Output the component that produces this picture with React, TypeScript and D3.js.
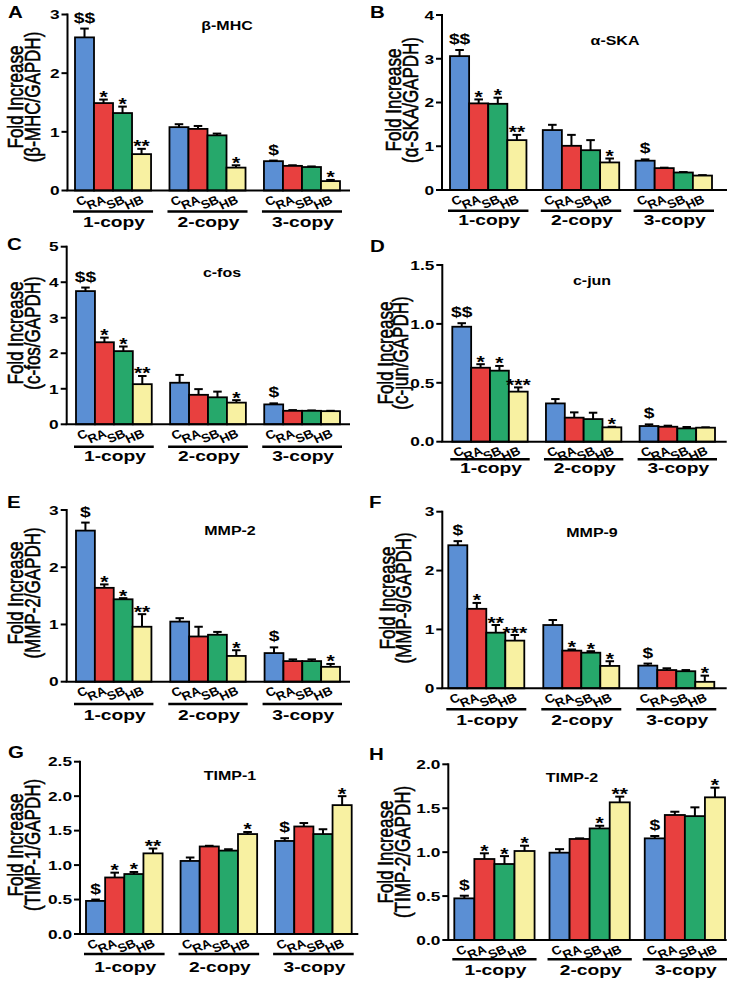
import React from 'react';
import * as d3 from 'd3';

// ---------- data ----------
const groups = ['1-copy', '2-copy', '3-copy'];
const treatments = ['C', 'RA', 'SB', 'HB'];
const barColors = ['#5B8FD4', '#E8403F', '#26A86B', '#F8F1A2'];

// A: beta-MHC
const mhcMeans = [[2.61, 1.49, 1.32, 0.62], [1.08, 1.05, 0.94, 0.39], [0.50, 0.42, 0.40, 0.16]];
const mhcSems = [[0.15, 0.06, 0.11, 0.09], [0.05, 0.05, 0.03, 0.04], [0.01, 0.01, 0.01, 0.02]];
const mhcMarks = [['$$', '*', '*', '**'], ['', '', '', '*'], ['$', '', '', '*']];
const mhcTicks = [0, 1, 2, 3];
const mhcTickLabels = ['0', '1', '2', '3'];

// B: alpha-SKA
const skaMeans = [[3.06, 1.98, 1.97, 1.14], [1.37, 1.01, 0.91, 0.63], [0.67, 0.50, 0.40, 0.33]];
const skaSems = [[0.14, 0.09, 0.14, 0.12], [0.12, 0.25, 0.23, 0.09], [0.03, 0.01, 0.01, 0.01]];
const skaMarks = [['$$', '*', '*', '**'], ['', '', '', '*'], ['$', '', '', '']];
const skaTicks = [0, 1, 2, 3, 4];
const skaTickLabels = ['0', '1', '2', '3', '4'];

// C: c-fos
const fosMeans = [[3.75, 2.31, 2.06, 1.13], [1.17, 0.83, 0.76, 0.61], [0.56, 0.38, 0.38, 0.37]];
const fosSems = [[0.10, 0.13, 0.13, 0.23], [0.22, 0.16, 0.16, 0.07], [0.03, 0.02, 0.01, 0.01]];
const fosMarks = [['$$', '*', '*', '**'], ['', '', '', '*'], ['$', '', '', '']];
const fosTicks = [0, 1, 2, 3, 4, 5];
const fosTickLabels = ['0', '1', '2', '3', '4', '5'];

// D: c-jun
const junMeans = [[0.976, 0.628, 0.603, 0.425], [0.325, 0.204, 0.192, 0.122], [0.133, 0.127, 0.113, 0.119]];
const junSems = [[0.03, 0.03, 0.04, 0.036], [0.037, 0.045, 0.054, 0.005], [0.014, 0.009, 0.012, 0.003]];
const junMarks = [['$$', '*', '*', '***'], ['', '', '', '*'], ['$', '', '', '']];
const junTicks = [0, 0.5, 1.0, 1.5];
const junTickLabels = ['0.0', '0.5', '1.0', '1.5'];

// E: MMP-2
const mmp2Means = [[2.64, 1.64, 1.44, 0.96], [1.05, 0.79, 0.82, 0.45], [0.50, 0.36, 0.36, 0.26]];
const mmp2Sems = [[0.14, 0.06, 0.02, 0.22], [0.06, 0.17, 0.05, 0.10], [0.10, 0.03, 0.03, 0.05]];
const mmp2Marks = [['$', '*', '*', '**'], ['', '', '', '*'], ['$', '', '', '*']];
const mmp2Ticks = [0, 1, 2, 3];
const mmp2TickLabels = ['0', '1', '2', '3'];

// F: MMP-9
const mmp9Means = [[2.43, 1.35, 0.945, 0.81], [1.075, 0.64, 0.605, 0.38], [0.385, 0.31, 0.29, 0.11]];
const mmp9Sems = [[0.07, 0.10, 0.13, 0.095], [0.085, 0.02, 0.025, 0.08], [0.035, 0.03, 0.02, 0.105]];
const mmp9Marks = [['$', '*', '**', '***'], ['', '*', '*', '*'], ['$', '', '', '*']];
const mmp9Ticks = [0, 1, 2, 3];
const mmp9TickLabels = ['0', '1', '2', '3'];

// G: TIMP-1
const timp1Means = [[0.48, 0.82, 0.87, 1.17], [1.06, 1.27, 1.21, 1.45], [1.35, 1.56, 1.45, 1.87]];
const timp1Sems = [[0.02, 0.07, 0.03, 0.07], [0.05, 0.01, 0.02, 0.03], [0.04, 0.05, 0.07, 0.13]];
const timp1Marks = [['$', '*', '*', '**'], ['', '', '', '*'], ['$', '', '', '*']];
const timp1Ticks = [0, 0.5, 1.0, 1.5, 2.0, 2.5];
const timp1TickLabels = ['0.0', '0.5', '1.0', '1.5', '2.0', '2.5'];

// H: TIMP-2
const timp2Means = [[0.474, 0.922, 0.865, 1.013], [0.994, 1.15, 1.27, 1.567], [1.157, 1.423, 1.41, 1.624]];
const timp2Sems = [[0.03, 0.065, 0.09, 0.06], [0.04, 0.007, 0.03, 0.065], [0.027, 0.037, 0.10, 0.11]];
const timp2Marks = [['$', '*', '*', '*'], ['', '', '*', '**'], ['$', '', '', '*']];
const timp2Ticks = [0, 0.5, 1.0, 1.5, 2.0];
const timp2TickLabels = ['0.0', '0.5', '1.0', '1.5', '2.0'];

const panels = [
  { letter: 'A', title: 'β-MHC', ylabel: '(β-MHC/GAPDH)', means: mhcMeans, sems: mhcSems, marks: mhcMarks, ticks: mhcTicks, tickLabels: mhcTickLabels },
  { letter: 'B', title: 'α-SKA', ylabel: '(α-SKA/GAPDH)', means: skaMeans, sems: skaSems, marks: skaMarks, ticks: skaTicks, tickLabels: skaTickLabels },
  { letter: 'C', title: 'c-fos', ylabel: '(c-fos/GAPDH)', means: fosMeans, sems: fosSems, marks: fosMarks, ticks: fosTicks, tickLabels: fosTickLabels },
  { letter: 'D', title: 'c-jun', ylabel: '(c-jun/GAPDH)', means: junMeans, sems: junSems, marks: junMarks, ticks: junTicks, tickLabels: junTickLabels },
  { letter: 'E', title: 'MMP-2', ylabel: '(MMP-2/GAPDH)', means: mmp2Means, sems: mmp2Sems, marks: mmp2Marks, ticks: mmp2Ticks, tickLabels: mmp2TickLabels },
  { letter: 'F', title: 'MMP-9', ylabel: '(MMP-9/GAPDH)', means: mmp9Means, sems: mmp9Sems, marks: mmp9Marks, ticks: mmp9Ticks, tickLabels: mmp9TickLabels },
  { letter: 'G', title: 'TIMP-1', ylabel: '(TIMP-1/GAPDH)', means: timp1Means, sems: timp1Sems, marks: timp1Marks, ticks: timp1Ticks, tickLabels: timp1TickLabels },
  { letter: 'H', title: 'TIMP-2', ylabel: '(TIMP-2/GAPDH)', means: timp2Means, sems: timp2Sems, marks: timp2Marks, ticks: timp2Ticks, tickLabels: timp2TickLabels },
];

// ---------- layout ----------
const layouts: Record<string, any> = {
  A: { ax: 67.5, b0: 75, b1: 340, xEnd: 350, yT: 14.5, yB: 190.5, pad: 0.195, l1: 15.5, l2: 32, lcy: 97, tx: 227, ty: 25, lx: 8, ly: 18, ul: 21, gl: 31.5 },
  B: { ax: 442, b0: 450, b1: 712, xEnd: 727, yT: 15, yB: 190, pad: 0.176, l1: 393, l2: 410, lcy: 100, tx: 615, ty: 40, lx: 370, ly: 18, ul: 20.7, gl: 30.7 },
  C: { ax: 66.7, b0: 76, b1: 340, xEnd: 350, yT: 246.7, yB: 424.3, pad: 0.195, l1: 15, l2: 32, lcy: 333, tx: 222, ty: 272, lx: 7, ly: 250, ul: 22.4, gl: 32.4 },
  D: { ax: 442.3, b0: 452.3, b1: 715, xEnd: 726.7, yT: 265, yB: 441.7, pad: 0.195, l1: 385, l2: 400, lcy: 353, tx: 592, ty: 280, lx: 370, ly: 252, ul: 17.6, gl: 26.6 },
  E: { ax: 66.7, b0: 76, b1: 340, xEnd: 350, yT: 510, yB: 681.7, pad: 0.2, l1: 15, l2: 32, lcy: 593, tx: 230, ty: 530, lx: 7, ly: 508, ul: 22.3, gl: 33.3 },
  F: { ax: 442.3, b0: 448.3, b1: 714.3, xEnd: 726.7, yT: 511.7, yB: 688.3, pad: 0.2, l1: 387, l2: 403, lcy: 598, tx: 592, ty: 532, lx: 369, ly: 508, ul: 21, gl: 31.7 },
  G: { ax: 80, b0: 86, b1: 351.7, xEnd: 358.3, yT: 761.7, yB: 934, pad: 0.19, l1: 15, l2: 32, lcy: 845, tx: 230, ty: 775, lx: 8, ly: 758, ul: 20, gl: 33 },
  H: { ax: 448.3, b0: 454.3, b1: 725, xEnd: 726.7, yT: 764.3, yB: 940, pad: 0.157, l1: 385, l2: 402, lcy: 852, tx: 572, ty: 777, lx: 369, ly: 760, ul: 19.3, gl: 30.7 },
};

const SX = 1.28;
const FONT = '"Liberation Sans", Arial, sans-serif';

function T({ x, y, size, weight = 'bold', anchor = 'start', rotate = 0, baseline, sx = SX, stroke, children }: any) {
  const tr = `translate(${x},${y}) scale(${sx},1)` + (rotate ? ` rotate(${rotate})` : '');
  return (
    <text transform={tr} fontSize={size} fontWeight={weight} textAnchor={anchor}
      dominantBaseline={baseline} fontFamily={FONT} fill="#000"
      stroke={stroke ? '#000' : undefined} strokeWidth={stroke || undefined}>{children}</text>
  );
}

function Panel({ p, L }: any) {
  const yMax = p.ticks[p.ticks.length - 1];
  const y = d3.scaleLinear().domain([0, yMax]).range([L.yB, L.yT]);
  const gx = d3.scaleBand<string>().domain(groups).range([L.b0, L.b1]).paddingInner(L.pad).paddingOuter(0);
  const bx = d3.scaleBand<string>().domain(treatments).range([0, gx.bandwidth()]).padding(0);
  const bw = bx.bandwidth();
  const capW = bw * 0.45;

  return (
    <g>
      <T x={L.lx} y={L.ly} size={16}>{p.letter}</T>
      <T x={L.tx} y={L.ty + 4.5} size={12.5} anchor="middle">{p.title}</T>
      <T x={L.l1} y={L.lcy} size={17} weight="normal" anchor="middle" rotate={-90} baseline="central" stroke={0.45}>Fold Increase</T>
      <T x={L.l2} y={L.lcy} size={17} weight="normal" anchor="middle" rotate={-90} baseline="central" stroke={0.45}>{p.ylabel}</T>

      {/* bars */}
      {groups.map((g, gi) => treatments.map((t, ti) => {
        const x0 = (gx(g) as number) + (bx(t) as number);
        const m = p.means[gi][ti];
        const s = p.sems[gi][ti];
        const cx = x0 + bw / 2;
        const top = y(m);
        const eTop = y(m + s);
        const mark = p.marks[gi][ti];
        return (
          <g key={g + t}>
            <line x1={cx} x2={cx} y1={top} y2={eTop} stroke="#000" strokeWidth={2} />
            <line x1={cx - capW / 2} x2={cx + capW / 2} y1={eTop} y2={eTop} stroke="#000" strokeWidth={2} />
            <rect x={x0} y={top} width={bw} height={L.yB - top} fill={barColors[ti]} stroke="#000" strokeWidth={1.8} />
            {mark && (mark.startsWith('$')
              ? <T x={cx} y={eTop - 6} size={15} anchor="middle">{mark}</T>
              : <T x={cx} y={eTop + 3.5} size={16.5} anchor="middle">{mark}</T>)}
            <T x={cx + 3} y={L.yB + 12} size={12} sx={1.1} anchor="end" rotate={-25}>{t}</T>
          </g>
        );
      }))}

      {/* y axis */}
      <line x1={L.ax} x2={L.ax} y1={L.yT - 1} y2={L.yB} stroke="#000" strokeWidth={2} />
      {p.ticks.map((v: number, i: number) => (
        <g key={'t' + i}>
          <line x1={L.ax - 6} x2={L.ax} y1={y(v)} y2={y(v)} stroke="#000" strokeWidth={2} />
          <T x={L.ax - 8} y={y(v)} size={13.5} anchor="end" baseline="central">{p.tickLabels[i]}</T>
        </g>
      ))}
      {/* x axis */}
      <line x1={L.ax - 1} x2={L.xEnd} y1={L.yB} y2={L.yB} stroke="#000" strokeWidth={2} />

      {/* group underline & labels */}
      {groups.map((g) => {
        const gx0 = gx(g) as number;
        return (
          <g key={'g' + g}>
            <line x1={gx0 - 2} x2={gx0 + gx.bandwidth() + 2} y1={L.yB + L.ul} y2={L.yB + L.ul} stroke="#000" strokeWidth={2.5} />
            <T x={gx0 + gx.bandwidth() / 2 + 1} y={L.yB + L.gl + 4.5} size={15} anchor="middle">{g}</T>
          </g>
        );
      })}
    </g>
  );
}

export default function App() {
  return (
    <svg width={731} height={982} viewBox="0 0 731 982"
      style={{ position: 'absolute', left: 0, top: 0, display: 'block', background: '#fff' }}>
      <rect x={0} y={0} width={731} height={982} fill="#fff" />
      {panels.map((p) => <Panel key={p.letter} p={p} L={layouts[p.letter]} />)}
    </svg>
  );
}
